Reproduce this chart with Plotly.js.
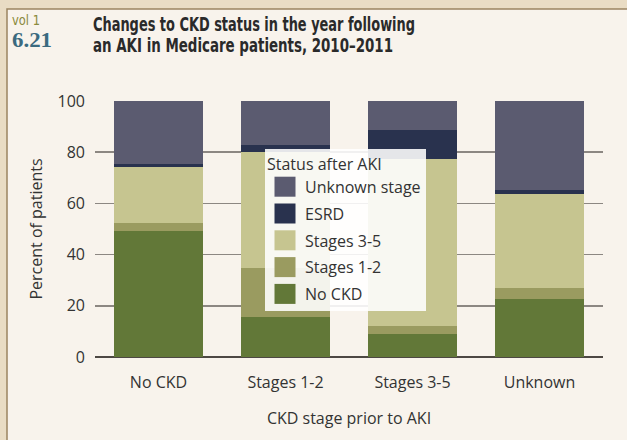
<!DOCTYPE html>
<html>
<head>
<meta charset="utf-8">
<script src="https://cdn.plot.ly/plotly-3.0.1.min.js"></script>
<style>
html,body{margin:0;padding:0;background:#e9dcc4;}
#chart{width:627px;height:440px;}
</style>
</head>
<body>
<div id="chart"></div>
<script>
// ---- Data ----
var categories = ["No CKD", "Stages 1-2", "Stages 3-5", "Unknown"];
var noCKD      = [49.2, 15.5, 8.9, 22.6];
var stages12   = [3.1, 19.2, 3.1, 4.3];
var stages35   = [21.9, 45.4, 65.3, 36.8];
var esrd       = [1.2, 2.7, 11.4, 1.5];
var unknownStg = [24.6, 17.2, 11.3, 34.8];
var seriesNames = ["No CKD", "Stages 1-2", "Stages 3-5", "ESRD", "Unknown stage"];
var seriesColors = ["#627838", "#9a9b60", "#c6c590", "#29324e", "#5b5b70"];
var yTicks = [0, 20, 40, 60, 80, 100];
var titleLines = ["Changes to CKD status in the year following", "an AKI in Medicare patients, 2010–2011"];

var seriesValues = [noCKD, stages12, stages35, esrd, unknownStg];
var traces = seriesValues.map(function (vals, i) {
  return {
    type: "bar",
    x: categories,
    y: vals,
    name: seriesNames[i],
    legendgroup: "g" + i,
    legendrank: 10 - i,
    marker: { color: seriesColors[i], line: { width: 0 } },
    hoverinfo: "x+y+name"
  };
});

var baseFont = "Open Sans, Noto Sans, DejaVu Sans, sans-serif";
var condFont = "Liberation Sans Narrow, DejaVu Sans Condensed, sans-serif";

function px2x(px) { return (px - 95) / 508; }
function px2y(py) { return (357 - py) / 256; }

var layout = {
  width: 627,
  height: 440,
  paper_bgcolor: "#e9dcc4",
  plot_bgcolor: "rgba(0,0,0,0)",
  barmode: "stack",
  bargap: 0.3,
  margin: { l: 95, r: 24, t: 101, b: 83, pad: 0 },
  font: { family: baseFont, size: 16, color: "#333333" },
  xaxis: {
    type: "category",
    range: [-0.5, 3.5],
    showgrid: false,
    showline: false,
    zeroline: false,
    ticks: "",
    ticklabelstandoff: 14,
    tickfont: { family: baseFont, size: 16, color: "#333333" },
    title: { text: "CKD stage prior to AKI", standoff: 20, font: { family: baseFont, size: 16, color: "#333333" } },
    fixedrange: true
  },
  yaxis: {
    range: [0, 100],
    tickvals: yTicks,
    ticktext: yTicks.map(String),
    showgrid: true,
    gridcolor: "#8c8782",
    gridwidth: 1.5,
    zeroline: true,
    zerolinecolor: "#4d4843",
    zerolinewidth: 2.5,
    showline: false,
    ticks: "",
    ticklabelstandoff: 9,
    tickfont: { family: baseFont, size: 16, color: "#333333" },
    title: { text: "Percent of patients", standoff: 10, font: { family: baseFont, size: 16, color: "#333333" } },
    fixedrange: true
  },
  legend: {
    title: { text: "Status after AKI", font: { family: baseFont, size: 16, color: "#333333" } },
    x: px2x(265), xanchor: "left",
    y: px2y(149), yanchor: "top",
    bgcolor: "rgba(255,255,255,0.88)",
    borderwidth: 0,
    traceorder: "grouped",
    tracegroupgap: 3,
    font: { family: baseFont, size: 16, color: "#333333" }
  },
  shapes: [
    {
      type: "rect", xref: "paper", yref: "paper", layer: "below",
      x0: px2x(7), x1: px2x(640),
      y0: px2y(460), y1: px2y(9),
      fillcolor: "#f8f3ec",
      line: { color: "#9a8460", width: 1.5 }
    }
  ],
  annotations: [
    {
      text: "vol 1", xref: "paper", yref: "paper",
      x: px2x(11), xanchor: "left", align: "left",
      y: px2y(19.5), yanchor: "middle",
      showarrow: false, borderpad: 0,
      font: { family: condFont, size: 14, color: "#8a8a3c" }
    },
    {
      text: "6.21", xref: "paper", yref: "paper",
      x: px2x(11), xanchor: "left", align: "left",
      y: px2y(40), yanchor: "middle",
      showarrow: false, borderpad: 0,
      font: { family: "Liberation Serif, DejaVu Serif, serif", size: 20, weight: "bold", color: "#3b6a7f" }
    },
    {
      text: titleLines[0], xref: "paper", yref: "paper",
      x: px2x(92), xanchor: "left", align: "left",
      y: px2y(23.5), yanchor: "middle",
      showarrow: false, borderpad: 0,
      font: { family: condFont, size: 19, weight: "bold", color: "#2a2a2a" }
    },
    {
      text: titleLines[1], xref: "paper", yref: "paper",
      x: px2x(92), xanchor: "left", align: "left",
      y: px2y(45), yanchor: "middle",
      showarrow: false, borderpad: 0,
      font: { family: condFont, size: 19, weight: "bold", color: "#2a2a2a" }
    }
  ],
  showlegend: true
};

var fitWidths = {};
fitWidths["vol 1"] = 28;
fitWidths["6.21"] = 40;
fitWidths[titleLines[0]] = 322;
fitWidths[titleLines[1]] = 300;

Plotly.newPlot("chart", traces, layout, { displayModeBar: false, staticPlot: true }).then(function () {
  document.querySelectorAll(".legend .legendpoints path").forEach(function (p) {
    p.setAttribute("d", "M10.5,10H-10.5V-10H10.5Z");
  });
  document.querySelectorAll("text.annotation-text").forEach(function (t) {
    var w = fitWidths[t.textContent];
    if (w) {
      t.setAttribute("textLength", w);
      t.setAttribute("lengthAdjust", "spacingAndGlyphs");
    }
  });
});
</script>
</body>
</html>
